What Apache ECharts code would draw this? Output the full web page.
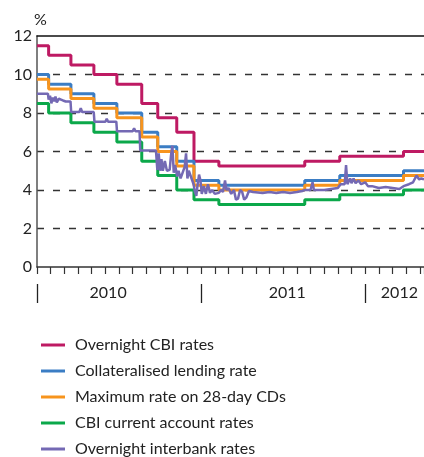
<!DOCTYPE html>
<html>
<head>
<meta charset="utf-8">
<script src="https://cdn.jsdelivr.net/npm/echarts@6/dist/echarts.min.js"></script>
<style>
  html, body { margin: 0; padding: 0; background: #fff; }
  #chart { width: 424px; height: 457px; }
</style>
</head>
<body>
<div id="chart"></div>
<script>
// months since Jan 2010 where policy rates change
const stepMonths = [0, 0.85, 2.48, 4.16, 5.84, 7.66, 8.83, 10.22, 11.48, 13.3, 19.58, 22.14, 26.8, 28.3];
const overnightCBI = [11.5, 11.0, 10.5, 10.0, 9.5, 8.5, 7.75, 7.0, 5.5, 5.25, 5.5, 5.75, 6.0, 6.0];
const collateralised = [10.0, 9.5, 9.0, 8.5, 8.0, 7.0, 6.25, 5.5, 4.5, 4.25, 4.5, 4.75, 5.0, 5.0];
const maxCDs = [9.75, 9.25, 8.75, 8.25, 7.75, 6.75, 6.0, 5.25, 4.25, 4.0, 4.25, 4.5, 4.75, 4.75];
const currentAccount = [8.5, 8.0, 7.5, 7.0, 6.5, 5.5, 4.75, 4.0, 3.5, 3.25, 3.5, 3.75, 4.0, 4.0];

const interbankMonths = [
  0, 0.8, 0.85, 0.95, 1.05, 1.15, 1.25, 1.35, 1.45, 1.6, 1.75, 1.9, 2.1, 2.45,
  2.5, 3.1, 3.2, 3.3, 4.15, 4.2, 5.0, 5.1, 5.2, 5.8, 5.85, 7.0, 7.1, 7.2, 7.5,
  7.55, 8.7, 8.8, 8.9, 9.0, 9.1, 9.2, 9.35, 9.5, 9.7, 9.8, 9.9, 10.0, 10.1,
  10.25, 10.35, 10.5, 10.65, 10.8, 10.9, 11.0, 11.1, 11.25, 11.45, 11.55, 11.65,
  11.75, 11.85, 11.95, 12.05, 12.2, 12.35, 12.5, 12.65, 12.8, 13.0, 13.3, 13.45,
  13.6, 13.75, 13.85, 14.0, 14.2, 14.4, 14.55, 14.7, 14.85, 15.0, 15.15, 15.3,
  15.5, 15.8, 16.5, 17.0, 17.5, 18.0, 18.5, 19.0, 19.4, 19.6, 20.0, 20.15, 20.25,
  21.0, 21.5, 22.0, 22.2, 22.5, 22.6, 22.7, 22.9, 23.0, 23.15, 23.3, 23.5, 23.7,
  24.0, 24.2, 24.5, 25.0, 25.5, 26.0, 26.5, 26.8, 27.2, 27.5, 27.75, 27.95, 28.1, 28.3
];
const interbankRates = [
  9.0, 9.0, 8.7, 8.9, 8.5, 8.8, 8.6, 8.85, 8.55, 8.75, 8.7, 8.65, 8.6, 8.6,
  8.05, 8.05, 8.25, 8.05, 8.05, 7.55, 7.55, 7.7, 7.55, 7.55, 7.05, 7.05, 7.2, 7.05, 7.05,
  6.05, 6.05, 5.05, 5.9, 5.0, 5.6, 5.0, 5.5, 5.0, 5.05, 5.8, 6.3, 4.9, 5.3,
  4.7, 5.0, 4.6, 4.9, 5.2, 5.9, 4.6, 5.0, 4.7, 4.3, 3.9, 3.7,
  4.3, 4.8, 4.5, 3.8, 4.2, 3.8, 4.3, 3.85, 4.0, 3.8, 3.85, 4.0,
  3.9, 4.5, 4.0, 4.1, 3.8, 4.0, 3.5, 3.55, 4.0, 3.9, 3.5, 3.6,
  3.95, 3.9, 3.85, 3.9, 3.85, 3.9, 3.85, 3.9, 3.95, 4.0, 4.0, 4.4, 4.0,
  4.0, 4.05, 4.1, 4.3, 4.3, 5.3, 4.3, 4.6, 4.35, 4.6, 4.35, 4.5, 4.3,
  4.4, 4.2, 4.2, 4.1, 4.15, 4.1, 4.05, 4.2, 4.3, 4.4, 4.75, 4.55, 4.6, 4.55
];

const yearLabels = ['2010', '2011', '2012'];
const yearStarts = [0, 12, 24];
const yearLabelAt = [5.2, 18.3, 26.5];
const yTicks = [0, 2, 4, 6, 8, 10, 12];

const seriesNames = [
  'Overnight CBI rates',
  'Collateralised lending rate',
  'Maximum rate on 28-day CDs',
  'CBI current account rates',
  'Overnight interbank rates'
];
const colors = ['#be1a63', '#3b7dc4', '#f7941d', '#0ba84a', '#7469b4'];

const FONT = 'Lato';

function zip(xs, ys) {
  return xs.map((x, i) => [x, ys[i]]);
}

function stepSeries(name, values, color) {
  return {
    name: name,
    type: 'line',
    step: 'end',
    symbol: 'none',
    data: zip(stepMonths, values),
    lineStyle: { color: color, width: 3 },
    itemStyle: { color: color }
  };
}

const chart = echarts.init(document.getElementById('chart'));

const xMin = 0;
const xMax = stepMonths[stepMonths.length - 1];

chart.setOption({
  animation: false,
  textStyle: { fontFamily: FONT },
  grid: { left: 37, right: 0, top: 36, bottom: 190, containLabel: false },
  legend: {
    orient: 'vertical',
    left: 36,
    top: 332,
    height: 140,
    icon: 'rect',
    itemWidth: 24,
    itemHeight: 3,
    itemGap: 10,
    data: seriesNames,
    textStyle: {
      fontFamily: FONT, fontSize: 16, color: '#222', lineHeight: 16,
      padding: [0, 0, 0, 5]
    }
  },
  xAxis: [
    {
      type: 'value', min: xMin, max: xMax, interval: 1,
      axisLine: { show: true, lineStyle: { color: '#333', width: 1.5 } },
      axisTick: { show: true, length: 7, lineStyle: { color: '#333', width: 1.2 } },
      axisLabel: { show: false },
      splitLine: { show: false }
    },
    {
      type: 'value', min: xMin, max: xMax, position: 'bottom', offset: 36,
      axisLine: { show: false },
      axisTick: {
        show: true, inside: true, length: 19, customValues: yearStarts,
        lineStyle: { color: '#222', width: 1.3 }
      },
      axisLabel: {
        show: true, inside: true, margin: 2, customValues: yearLabelAt,
        fontFamily: FONT, fontSize: 16, color: '#222',
        formatter: v => yearLabels[yearLabelAt.indexOf(v)] || ''
      },
      splitLine: { show: false }
    },
    {
      type: 'value', min: xMin, max: xMax, position: 'top',
      axisLine: { show: true, lineStyle: { color: '#111', width: 1.5 } },
      axisTick: { show: false },
      axisLabel: { show: false },
      splitLine: { show: false }
    }
  ],
  yAxis: {
    type: 'value', min: 0, max: 12, interval: 2,
    name: '%',
    nameLocation: 'end',
    nameGap: 3,
    nameTextStyle: {
      fontFamily: FONT, fontSize: 16, color: '#222', align: 'left',
      verticalAlign: 'middle', padding: [0, 0, 0, -3]
    },
    axisLine: { show: true, lineStyle: { color: '#555', width: 1.5 } },
    axisTick: { show: false },
    axisLabel: {
      fontFamily: FONT, fontSize: 16, color: '#222', margin: 5,
      formatter: v => (yTicks.indexOf(v) >= 0 ? String(v) : '')
    },
    splitLine: {
      show: true, showMinLine: false, showMaxLine: false,
      lineStyle: { color: '#333', width: 1.4, type: [7, 9] }
    }
  },
  series: [
    stepSeries(seriesNames[0], overnightCBI, colors[0]),
    stepSeries(seriesNames[1], collateralised, colors[1]),
    stepSeries(seriesNames[2], maxCDs, colors[2]),
    stepSeries(seriesNames[3], currentAccount, colors[3]),
    {
      name: seriesNames[4],
      type: 'line',
      symbol: 'none',
      data: zip(interbankMonths, interbankRates),
      lineStyle: { color: colors[4], width: 2.5 },
      itemStyle: { color: colors[4] }
    }
  ]
});
</script>
</body>
</html>
